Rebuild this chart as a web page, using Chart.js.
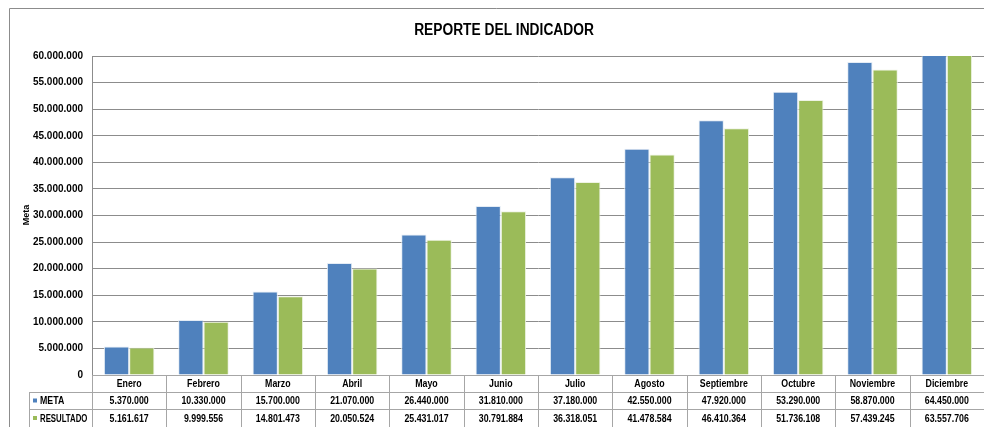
<!DOCTYPE html>
<html>
<head>
<meta charset="utf-8">
<script src="https://cdn.jsdelivr.net/npm/chart.js@4.4.1/dist/chart.umd.min.js"></script>
<style>
  html, body { margin: 0; padding: 0; background: #fff; }
  #wrap { width: 984px; height: 427px; position: relative; }
</style>
</head>
<body>
<div id="wrap"><canvas id="chart"></canvas></div>
<script>
const meses = ["Enero", "Febrero", "Marzo", "Abril", "Mayo", "Junio", "Julio", "Agosto", "Septiembre", "Octubre", "Noviembre", "Diciembre"];
const meta = [5370000, 10330000, 15700000, 21070000, 26440000, 31810000, 37180000, 42550000, 47920000, 53290000, 58870000, 64450000];
const resultado = [5161617, 9999556, 14801473, 20050524, 25431017, 30791884, 36318051, 41478584, 46410364, 51736108, 57439245, 63557706];

const AZUL = "#4F81BD";
const VERDE = "#9BBB59";
const FUENTE = "'Liberation Sans', Arial, sans-serif";

function fmt(n) {
  return String(n).replace(/\B(?=(\d{3})+(?!\d))/g, ".");
}

// texto estrechado para parecerse a Calibri
function texto(ctx, s, x, y, k) {
  ctx.save();
  ctx.translate(x, y);
  ctx.scale(k, 1);
  ctx.fillText(s, 0, 0);
  ctx.restore();
}

// dibuja titulo, marco y la tabla de datos debajo del grafico
const tablaPlugin = {
  id: "tabla",
  afterDraw(chart) {
    const ctx = chart.ctx;
    const area = chart.chartArea;
    const x = chart.scales.x;
    const W = chart.width, H = chart.height;
    ctx.save();

    // marco
    ctx.strokeStyle = "#8c8c8c";
    ctx.lineWidth = 1;
    ctx.beginPath();
    ctx.moveTo(9.5, H);
    ctx.lineTo(9.5, 8.5);
    ctx.lineTo(W, 8.5);
    ctx.stroke();

    // titulo
    ctx.fillStyle = "#000";
    ctx.font = "bold 16px " + FUENTE;
    ctx.textAlign = "center";
    ctx.textBaseline = "middle";
    texto(ctx, "REPORTE DEL INDICADOR", 504, 31, 0.86);

    // titulo eje
    ctx.save();
    ctx.translate(27, 215);
    ctx.rotate(-Math.PI / 2);
    ctx.font = "bold 9px " + FUENTE;
    ctx.fillText("Meta", 0, 0);
    ctx.restore();

    const y0 = area.bottom;
    const r1 = y0 + 17, r2 = r1 + 17, r3 = H;
    const left = 29;
    const step = x.getPixelForValue(1) - x.getPixelForValue(0);

    ctx.strokeStyle = "#a6a6a6";
    ctx.beginPath();
    ctx.moveTo(area.left, y0 + 0.5); ctx.lineTo(W, y0 + 0.5);
    ctx.moveTo(left, r1 + 0.5); ctx.lineTo(W, r1 + 0.5);
    ctx.moveTo(left, r2 + 0.5); ctx.lineTo(W, r2 + 0.5);
    ctx.moveTo(left + 0.5, r1); ctx.lineTo(left + 0.5, r3);
    ctx.moveTo(area.left + 0.5, y0); ctx.lineTo(area.left + 0.5, r3);
    for (let i = 0; i < meses.length; i++) {
      const bx = Math.round(x.getPixelForValue(i) + step / 2) + 0.5;
      ctx.moveTo(bx, y0); ctx.lineTo(bx, r3);
    }
    ctx.stroke();

    ctx.fillStyle = "#000";
    ctx.font = "bold 10px " + FUENTE;
    ctx.textAlign = "center";
    for (let i = 0; i < meses.length; i++) {
      const cx = x.getPixelForValue(i);
      texto(ctx, meses[i], cx, (y0 + r1) / 2 + 1, 0.88);
      texto(ctx, fmt(meta[i]), cx, (r1 + r2) / 2 + 1, 0.88);
      texto(ctx, fmt(resultado[i]), cx, (r2 + r3) / 2 + 1, 0.88);
    }

    // leyenda en la tabla
    ctx.textAlign = "left";
    ctx.fillStyle = AZUL;
    ctx.fillRect(33, (r1 + r2) / 2 - 2, 4, 4);
    ctx.fillStyle = VERDE;
    ctx.fillRect(33, (r2 + r3) / 2 - 2, 4, 4);
    ctx.fillStyle = "#000";
    texto(ctx, "META", 40, (r1 + r2) / 2 + 1, 0.88);
    texto(ctx, "RESULTADO", 40, (r2 + r3) / 2 + 1, 0.78);

    ctx.restore();
  }
};

new Chart(document.getElementById("chart"), {
  type: "bar",
  data: {
    labels: meses,
    datasets: [
      { label: "META", data: meta, backgroundColor: AZUL, borderColor: "#e4ecf5", borderWidth: 1 },
      { label: "RESULTADO", data: resultado, backgroundColor: VERDE, borderColor: "#eef3e4", borderWidth: 1 }
    ]
  },
  options: {
    responsive: true,
    maintainAspectRatio: false,
    animation: false,
    layout: { padding: { top: 56, bottom: 52, left: 0, right: 0 } },
    datasets: { bar: { categoryPercentage: 0.68, barPercentage: 1 } },
    plugins: {
      legend: { display: false },
      title: { display: false },
      tooltip: { enabled: false }
    },
    scales: {
      x: { display: false },
      y: {
        min: 0,
        max: 60000000,
        afterFit(scale) { scale.width = 92; },
        border: { display: true, color: "#8c8c8c" },
        grid: { color: "#8c8c8c", drawTicks: false },
        ticks: {
          stepSize: 5000000,
          padding: 9,
          color: "#000",
          font: { family: FUENTE, size: 10, weight: "bold" },
          callback: v => fmt(v)
        }
      }
    }
  },
  plugins: [tablaPlugin]
});
</script>
</body>
</html>
